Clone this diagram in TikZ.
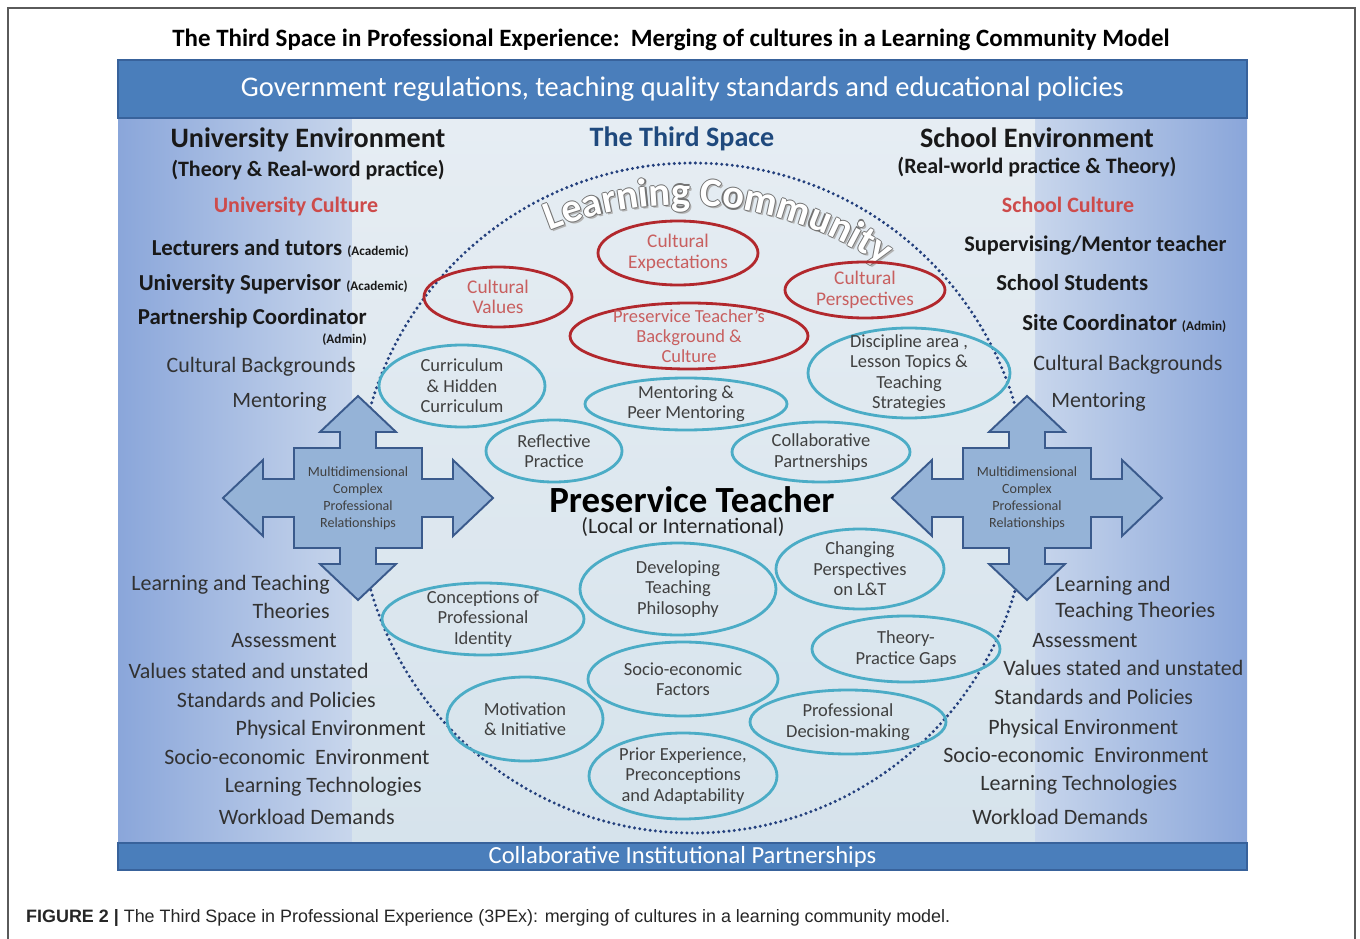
\documentclass[tikz,border=0pt]{standalone}
\usepackage{fontspec}
\setmainfont{Carlito}
\newfontfamily\capfont{Liberation Sans}
\usetikzlibrary{shapes.geometric,decorations.text}

\newlength\pxu
\setlength\pxu{0.02cm}
\newcommand\lcfont{\fontsize{23}{23}\selectfont\bfseries}
\newcommand\tagfont{\fontsize{7.5}{9}\selectfont}

\definecolor{bandblue}{RGB}{74,126,187}
\definecolor{bandedge}{RGB}{56,98,155}
\definecolor{edgeblue}{RGB}{138,166,218}
\definecolor{midblue}{RGB}{200,214,236}
\definecolor{centtop}{RGB}{230,237,243}
\definecolor{centbot}{RGB}{214,227,236}
\definecolor{dotblue}{RGB}{36,64,125}
\definecolor{arrowfill}{RGB}{149,179,215}
\definecolor{arrowedge}{RGB}{58,90,140}
\definecolor{ringred}{RGB}{178,40,45}
\definecolor{ringtext}{RGB}{200,95,95}
\definecolor{culred}{RGB}{205,75,75}
\definecolor{ringblue}{RGB}{75,172,198}
\definecolor{thirdblue}{RGB}{31,73,125}
\definecolor{listgray}{RGB}{50,50,50}
\definecolor{framegray}{RGB}{90,90,90}

\begin{document}
\begin{tikzpicture}[
    x=0.02cm, y=-0.02cm,
    headtext/.style={font=\fontsize{16}{19}\selectfont\bfseries, text=black!90},
    subhead/.style={font=\fontsize{12.5}{15}\selectfont\bfseries, text=black!90},
    culturetext/.style={font=\fontsize{12.5}{15}\selectfont\bfseries, text=culred},
    roletext/.style={font=\fontsize{13}{15}\selectfont\bfseries, text=black!90, inner sep=0pt},
    listtext/.style={font=\fontsize{12.5}{15}\selectfont, text=listgray, inner sep=0pt},
    ringsize/.style 2 args={minimum width=#1\pxu, minimum height=#2\pxu},
    ring/.style={ellipse, inner sep=-40pt, align=center, line width=1.6pt},
    redring/.style={ring, draw=ringred, text=ringtext, font=\fontsize{11}{11.6}\selectfont},
    bluering/.style={ring, draw=ringblue, text=black!75, font=\fontsize{10.5}{11.6}\selectfont},
    band/.style={fill=bandblue, draw=bandedge, line width=0.8pt, text=white, inner sep=0pt},
    relarrow/.style={fill=arrowfill, draw=arrowedge, line width=1.1pt, line join=miter},
    reltext/.style={font=\fontsize{8}{9.6}\selectfont, text=black!75, align=center},
    dotring/.style={draw=dotblue, line width=1.9pt, line cap=round, dash pattern=on 0pt off 3pt}
    ]
    \useasboundingbox (0,0) rectangle (1360,939);
    \fill[white] (0,0) rectangle (1360,939);
    \draw[framegray, line width=1pt] (8,939) -- (8,8) -- (1355,8) -- (1355,939);

    \node[font=\fontsize{14.2}{16}\selectfont\bfseries] (title) at (671,40)
        {The Third Space in Professional Experience:\ \ Merging of cultures in a Learning Community Model};

    % background
    \shade[left color=edgeblue, right color=midblue] (118,118) rectangle (352,843);
    \shade[left color=midblue, right color=edgeblue] (1035,118) rectangle (1247,843);
    \shade[top color=centtop, bottom color=centbot] (352,118) rectangle (1035,843);

    \node[band, minimum width=1129\pxu, minimum height=58\pxu, font=\fontsize{16.2}{19}\selectfont] (govband) at (682.5,89)
        {Government regulations, teaching quality standards and educational policies};
    \node[band, minimum width=1129\pxu, minimum height=27\pxu, font=\fontsize{14}{16}\selectfont] (partband) at (682.5,856.5)
        {Collaborative Institutional Partnerships};

    % learning community
    \draw[dotring] (693,498) circle[radius=335];

    \foreach \dx/\dy/\col in {2/2/black!30, -1.2/0/black!55, 1.2/0/black!55, 0/-1.2/black!55, 0/1.2/black!55, 0/0/white}{
    \path[shift={(\dx,\dy)}, decoration={text along path, text={|\lcfont|Learning Community}, text align=center, text color=\col}, decorate]
        ([shift={(112:7.18cm)}]683,564) arc[start angle=112, end angle=56, radius=7.18cm];
    }

    \foreach \cx/\nm in {358/relL, 1027/relR}{
    \draw[relarrow, shift={(\cx,498)}] (0,-102) -- (38,-66) -- (18,-66) -- (18,-50) -- (64,-50) -- (64,-19) -- (95,-19) -- (95,-38)
        -- (135,0) -- (95,38) -- (95,19) -- (64,19) -- (64,50) -- (18,50) -- (18,66) -- (38,66) -- (0,102)
        -- (-38,66) -- (-18,66) -- (-18,50) -- (-64,50) -- (-64,19) -- (-95,19) -- (-95,38) -- (-135,0)
        -- (-95,-38) -- (-95,-19) -- (-64,-19) -- (-64,-50) -- (-18,-50) -- (-18,-66) -- (-38,-66) -- cycle;
    \node[reltext] (\nm) at (\cx,498) {Multidimensional\\Complex\\Professional\\Relationships};
    }

    % cultural rings
    \node[redring, ringsize={160}{64}] (cexp) at (678,253) {Cultural\\Expectations};
    \node[redring, ringsize={148}{60}] (cval) at (498,297) {Cultural\\Values};
    \node[redring, ringsize={160}{56}] (cpersp) at (865,290) {Cultural\\Perspectives};
    \node[redring, ringsize={238}{66}, font=\fontsize{10.5}{11.6}\selectfont] (ptbg) at (689,336) {Preservice Teacher’s\\Background \&\\Culture};

    \node[bluering, ringsize={166}{82}] (curr) at (462,386) {Curriculum\\\& Hidden\\Curriculum};
    \node[bluering, ringsize={202}{90}] (disc) at (909,373) {Discipline area ,\\Lesson Topics \&\\Teaching\\Strategies};
    \node[bluering, ringsize={202}{52}] (ment) at (686,404) {Mentoring \&\\Peer Mentoring};
    \node[bluering, ringsize={136}{62}] (refl) at (554,451) {Reflective\\Practice};
    \node[bluering, ringsize={178}{60}] (collab) at (821,452) {Collaborative\\Partnerships};
    \node[bluering, ringsize={196}{92}] (devphil) at (678,589) {Developing\\Teaching\\Philosophy};
    \node[bluering, ringsize={168}{80}] (chpersp) at (860,569) {Changing\\Perspectives\\on L\&T};
    \node[bluering, ringsize={202}{72}] (concid) at (483,619) {Conceptions of\\Professional\\Identity};
    \node[bluering, ringsize={188}{66}] (tpgaps) at (906,649) {Theory-\\Practice Gaps};
    \node[bluering, ringsize={190}{74}] (socio) at (683,679) {Socio-economic\\Factors};
    \node[bluering, ringsize={156}{84}] (motiv) at (525,719) {Motivation\\\& Initiative};
    \node[bluering, ringsize={196}{64}] (profdm) at (848,722) {Professional\\Decision-making};
    \node[bluering, ringsize={188}{86}] (prior) at (683,776) {Prior Experience,\\Preconceptions\\and Adaptability};

    \node[font=\fontsize{21}{24}\selectfont\bfseries] (pst) at (692,500) {Preservice Teacher};
    \node[font=\fontsize{12.5}{15}\selectfont, text=black!85] (pstsub) at (683,527) {(Local or International)};
    \node[headtext, text=thirdblue] (third) at (682,139) {The Third Space};

    % university side
    \node[headtext] (unienv) at (308,140) {University Environment};
    \node[subhead] (unisub) at (308,170) {(Theory \& Real-word practice)};
    \node[culturetext] (unicult) at (296,207) {University Culture};
    \node[roletext, anchor=east] (lect) at (409,248) {Lecturers and tutors {\tagfont(Academic)}};
    \node[roletext, anchor=east] (usup) at (408,284) {University Supervisor {\tagfont(Academic)}};
    \node[roletext, anchor=east] (pcoord) at (367,318) {Partnership Coordinator};
    \node[roletext, anchor=east, font=\tagfont\bfseries] (pcadmin) at (367,340) {(Admin)};
    \foreach \txt/\xx/\yy [count=\i] in {Cultural Backgrounds/356/367, Mentoring/327/402, Learning and Teaching/330/585,
        Theories/330/611, Assessment/337/641, Values stated and unstated/369/671, Standards and Policies/376/700,
        Physical Environment/426/730, Socio-economic\ \ Environment/430/757, Learning Technologies/422/787, Workload Demands/395/817}{
    \node[listtext, anchor=east] (uni\i) at (\xx,\yy) {\txt};
    }

    % school side
    \node[headtext] (schenv) at (1037,138) {School Environment};
    \node[subhead] (schsub) at (1037,167) {(Real-world practice \& Theory)};
    \node[culturetext] (schcult) at (1068,205) {School Culture};
    \node[roletext, anchor=west, font=\fontsize{12.7}{15}\selectfont\bfseries] (mentor) at (964,246) {Supervising/Mentor teacher};
    \node[roletext, anchor=west] (students) at (996,283) {School Students};
    \node[roletext, anchor=west] (scoord) at (1022,323) {Site Coordinator {\tagfont(Admin)}};
    \foreach \txt/\xx/\yy [count=\i] in {Cultural Backgrounds/1033/365, Mentoring/1051/402, Learning and/1055/586,
        Teaching Theories/1055/612, Assessment/1032/641, Values stated and unstated/1003/668, Standards and Policies/994/697,
        Physical Environment/988/729, Socio-economic\ \ Environment/943/755, Learning Technologies/980/785, Workload Demands/972/817}{
    \node[listtext, anchor=west] (sch\i) at (\xx,\yy) {\txt};
    }

    \node[anchor=west, font=\capfont\fontsize{10.2}{12}\selectfont, text=black!85] (caption) at (20,918)
        {\textbf{FIGURE 2 \textbar{}} The Third Space in Professional Experience (3PEx): merging of cultures in a learning community model.};
\end{tikzpicture}
\end{document}
